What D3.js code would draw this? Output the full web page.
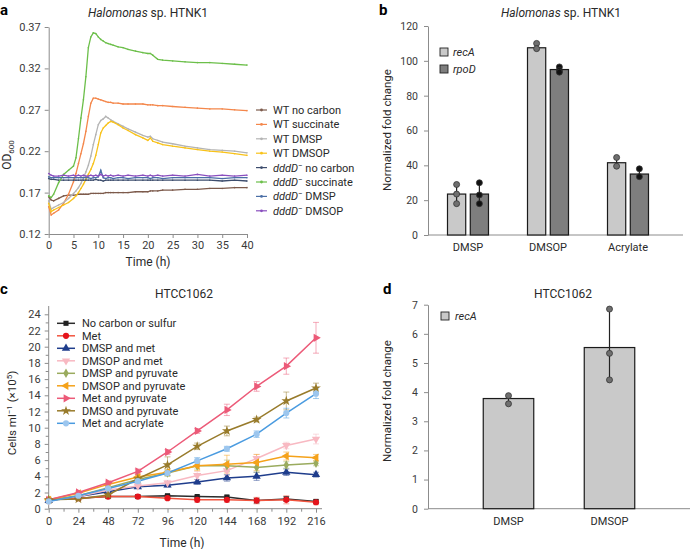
<!DOCTYPE html>
<html><head><meta charset="utf-8">
<script src="https://cdn.jsdelivr.net/npm/d3@7"></script>
<style>body{margin:0;background:#fff} svg text{font-family:Roboto,"Liberation Sans",sans-serif}</style>
</head><body><svg id="chart" width="694" height="549"></svg>
<script>
// ---------- Panel a data ----------
const timesA = [0,0.5,1,2,3,4,5,5.5,6,6.5,7,7.5,8,8.5,9,9.5,10,10.5,11,11.5,12,12.5,13,14,15,16,17.5,19,20,20.5,21,22,23,25,27.5,30,32.5,35,37.5,40];
const wtNoCarbon  = [0.165,0.161,0.160,0.163,0.166,0.167,0.167,0.167,0.168,0.168,0.168,0.168,0.168,0.169,0.169,0.169,0.169,0.169,0.169,0.170,0.170,0.170,0.170,0.170,0.170,0.170,0.171,0.171,0.171,0.172,0.172,0.172,0.173,0.173,0.174,0.174,0.175,0.175,0.176,0.176];
const wtSuccinate = [0.153,0.143,0.145,0.149,0.157,0.168,0.183,0.193,0.205,0.217,0.229,0.244,0.262,0.278,0.284,0.284,0.283,0.282,0.281,0.280,0.279,0.279,0.278,0.278,0.277,0.277,0.277,0.277,0.276,0.276,0.276,0.275,0.275,0.274,0.273,0.272,0.271,0.271,0.270,0.269];
const wtDMSP      = [0.160,0.150,0.152,0.155,0.158,0.163,0.169,0.172,0.176,0.181,0.188,0.195,0.203,0.214,0.228,0.240,0.252,0.257,0.259,0.262,0.260,0.258,0.256,0.253,0.250,0.247,0.243,0.239,0.237,0.238,0.235,0.233,0.231,0.229,0.226,0.224,0.222,0.221,0.220,0.218];
const wtDMSOP     = [0.157,0.147,0.149,0.152,0.155,0.158,0.163,0.166,0.170,0.175,0.180,0.186,0.192,0.198,0.205,0.215,0.228,0.242,0.248,0.251,0.254,0.256,0.255,0.252,0.248,0.245,0.240,0.236,0.233,0.236,0.232,0.230,0.228,0.226,0.224,0.222,0.220,0.219,0.217,0.215];
const dddNoCarbon = [0.187,0.186,0.186,0.185,0.185,0.185,0.185,0.185,0.185,0.185,0.185,0.185,0.185,0.185,0.185,0.186,0.185,0.185,0.184,0.185,0.185,0.185,0.185,0.185,0.185,0.185,0.185,0.185,0.185,0.185,0.185,0.185,0.185,0.185,0.185,0.185,0.185,0.184,0.185,0.184];
const dddSuccinate= [0.166,0.164,0.168,0.182,0.192,0.197,0.202,0.212,0.235,0.260,0.282,0.310,0.345,0.358,0.363,0.362,0.358,0.355,0.353,0.351,0.350,0.349,0.348,0.346,0.345,0.343,0.341,0.339,0.338,0.338,0.336,0.331,0.330,0.329,0.328,0.327,0.327,0.326,0.325,0.324];
const dddDMSP     = [0.189,0.188,0.188,0.188,0.188,0.188,0.188,0.188,0.188,0.188,0.188,0.188,0.188,0.187,0.188,0.188,0.189,0.197,0.188,0.187,0.188,0.188,0.187,0.188,0.188,0.187,0.188,0.188,0.188,0.187,0.188,0.188,0.187,0.188,0.188,0.188,0.188,0.187,0.188,0.188];
const dddDMSOP    = [0.193,0.191,0.190,0.190,0.191,0.190,0.191,0.190,0.191,0.190,0.191,0.190,0.190,0.191,0.190,0.191,0.190,0.192,0.190,0.191,0.190,0.191,0.190,0.191,0.190,0.191,0.190,0.191,0.190,0.191,0.190,0.191,0.190,0.191,0.190,0.192,0.190,0.191,0.190,0.191];
const seriesANames = ["WT no carbon","WT succinate","WT DMSP","WT DMSOP","no carbon","succinate","DMSP","DMSOP"];
const seriesAMutant = [false,false,false,false,true,true,true,true];
const seriesAColors = ["#7d5b4c","#f4874b","#b4b4b4","#f8c21a","#3d4d6d","#6cbf4a","#4b6fa6","#8a4fbf"];
const seriesAValues = [wtNoCarbon,wtSuccinate,wtDMSP,wtDMSOP,dddNoCarbon,dddSuccinate,dddDMSP,dddDMSOP];
const ticksAx = [0,5,10,15,20,25,30,35,40];
const ticksAy = [0.12,0.17,0.22,0.27,0.32,0.37];

// ---------- Panel b data ----------
const catsB = ["DMSP","DMSOP","Acrylate"];
const genesB = ["recA","rpoD"];
const recAMeanB = [23.5,107.5,41.5];
const rpoDMeanB = [23.5,95,35];
const recAPtsB = [[29,23.5,18],[110,107],[44.5,39.5]];
const rpoDPtsB = [[30,23,18],[96.5,94.5,93.5],[38,33.5]];
const ticksBy = [0,20,40,60,80,100,120];

// ---------- Panel c data ----------
const timesC = [0,24,48,72,96,120,144,168,192,216];
const noCarbonSulfur = [1.1,1.3,1.5,1.5,1.6,1.5,1.45,1.0,1.2,0.9];
const met            = [1.1,1.3,1.5,1.5,1.3,1.1,1.1,1.0,1.1,0.8];
const dmspMet        = [1.0,1.5,2.1,2.7,2.9,3.3,3.8,4.0,4.5,4.2];
const dmsopMet       = [1.0,1.5,2.3,2.8,3.2,4.1,4.7,6.2,7.8,8.6];
const dmspPyr        = [1.1,1.6,2.6,3.6,4.4,5.3,5.3,5.1,5.4,5.6];
const dmsopPyr       = [1.1,1.9,3.0,3.9,4.5,5.3,5.5,5.7,6.5,6.3];
const metPyr         = [1.1,2.0,3.2,4.6,7.0,9.6,12.2,15.1,17.6,21.1];
const dmsoPyr        = [1.1,1.2,1.7,3.7,5.4,7.7,9.6,11.0,13.3,14.9];
const metAcr         = [0.9,1.6,2.5,3.4,4.4,5.9,7.4,9.2,11.8,14.2];
const errNoCarbon = [0.15,0.15,0.15,0.15,0.15,0.15,0.15,0.3,0.3,0.2];
const errMet      = [0.15,0.2,0.2,0.15,0.2,0.3,0.3,0.4,0.5,0.3];
const errDmspMet  = [0.1,0.15,0.2,0.2,0.2,0.3,0.4,0.5,0.4,0.3];
const errDmsopMet = [0.1,0.2,0.3,0.3,0.3,0.5,0.6,0.5,0.4,0.6];
const errDmspPyr  = [0.1,0.2,0.2,0.3,0.4,0.4,0.7,0.6,0.4,0.3];
const errDmsopPyr = [0.1,0.2,0.2,0.3,0.4,0.6,1.1,1.0,0.5,0.4];
const errMetPyr   = [0.1,0.2,0.2,0.3,0.3,0.3,0.7,0.6,1.0,1.9];
const errDmsoPyr  = [0.1,0.2,0.2,0.3,1.0,0.4,0.6,0.3,1.1,0.6];
const errMetAcr   = [0.1,0.2,0.2,0.3,0.3,0.4,0.3,0.4,0.6,0.6];
const seriesCNames = ["No carbon or sulfur","Met","DMSP and met","DMSOP and met","DMSP and pyruvate","DMSOP and pyruvate","Met and pyruvate","DMSO and pyruvate","Met and acrylate"];
const seriesCValues = [noCarbonSulfur,met,dmspMet,dmsopMet,dmspPyr,dmsopPyr,metPyr,dmsoPyr,metAcr];
const seriesCErrors = [errNoCarbon,errMet,errDmspMet,errDmsopMet,errDmspPyr,errDmsopPyr,errMetPyr,errDmsoPyr,errMetAcr];
const seriesCLine   = ["#2b2b2b","#f2553f","#1f3d8c","#f8b9c2","#9aab5e","#f5a21a","#ec5a78","#987b2b","#4a9be0"];
const seriesCMarker = ["#222222","#e5141c","#1f3d8c","#f8b9c2","#9aab5e","#f5a21a","#ec5a78","#987b2b","#9cc6ee"];
const seriesCShape  = ["square","circle","up","down","diamond","left","right","star","circle"];
const ticksCx = [0,24,48,72,96,120,144,168,192,216];
const ticksCy = [0,2,4,6,8,10,12,14,16,18,20,22,24];

// ---------- Panel d data ----------
const catsD = ["DMSP","DMSOP"];
const recAMeanD = [3.78,5.53];
const recAPtsD = [[3.88,3.6],[6.85,5.33,4.42]];
const ticksDy = [0,1,2,3,4,5,6,7];

// ---------- drawing ----------
const svg = d3.select("#chart");
const FONT = 'Roboto,"Liberation Sans",sans-serif';
const AX = "#8c8c8c";
const TXT = "#2a2a2a";
function styleAxis(g, fs){
  g.attr("font-family", FONT).attr("font-size", fs || 11);
  g.select("path.domain").attr("stroke", AX);
  g.selectAll(".tick line").attr("stroke", AX);
  g.selectAll(".tick text").attr("fill", "#3a3a3a");
}
function txt(x,y,s,opt){
  opt = opt||{};
  const t = svg.append("text").attr("x",x).attr("y",y).text(s)
    .attr("font-size",opt.fs||11).attr("fill",opt.fill||TXT)
    .attr("text-anchor",opt.anchor||"start");
  if(opt.bold) t.attr("font-weight","bold");
  if(opt.italic) t.attr("font-style","italic");
  return t;
}
function panelLabel(x,y,s){ txt(x,y,s,{fs:15,bold:true,fill:"#000"}); }

// ===== Panel a =====
const xA = d3.scaleLinear().domain([0,40]).range([48.7,247]);
const yA = d3.scaleLinear().domain([0.12,0.37]).range([234,27]);
panelLabel(0,15,"a");
{
  const t = txt(148,17,"",{fs:12,anchor:"middle"});
  t.append("tspan").attr("font-style","italic").text("Halomonas");
  t.append("tspan").text(" sp. HTNK1");
}
const gAy = svg.append("g").attr("transform","translate(48.7,0)")
  .call(d3.axisLeft(yA).tickValues(ticksAy).tickFormat(d3.format(".2f")).tickSize(4).tickSizeOuter(0).tickPadding(4));
styleAxis(gAy);
const gAx = svg.append("g").attr("transform","translate(0,234)")
  .call(d3.axisBottom(xA).tickValues(ticksAx).tickSize(4).tickSizeOuter(0).tickPadding(3));
styleAxis(gAx);
txt(148,266,"Time (h)",{fs:12,anchor:"middle"});
{
  const t = svg.append("text").attr("transform","translate(11,155) rotate(-90)")
    .attr("text-anchor","middle").attr("font-size",12).attr("fill",TXT);
  t.append("tspan").text("OD");
  t.append("tspan").attr("font-size",8).attr("dy",3).text("600");
}
const lineA = d3.line().x((d,i)=>xA(timesA[i])).y(d=>yA(d));
seriesAValues.forEach((vals,k)=>{
  svg.append("path").datum(vals).attr("d",lineA).attr("fill","none")
    .attr("stroke",seriesAColors[k]).attr("stroke-width",1.3);
  svg.append("g").selectAll("circle").data(vals).join("circle")
    .attr("cx",(d,i)=>xA(timesA[i])).attr("cy",d=>yA(d)).attr("r",0.8)
    .attr("fill",seriesAColors[k]);
});
// legend a
seriesANames.forEach((n,k)=>{
  const y = 110 + k*14.4;
  svg.append("line").attr("x1",256).attr("x2",267).attr("y1",y).attr("y2",y)
    .attr("stroke",seriesAColors[k]).attr("stroke-width",1.2);
  svg.append("circle").attr("cx",261.5).attr("cy",y).attr("r",1.4).attr("fill",seriesAColors[k]);
  const t = txt(273,y+4,"",{fs:11});
  if(seriesAMutant[k]){
    t.append("tspan").attr("font-style","italic").text("dddD");
    t.append("tspan").attr("font-size",8).attr("dy",-4).text("\u2212");
    t.append("tspan").attr("dy",4).text(" "+n);
  } else t.text(n);
});

// ===== Panel b =====
const xB = d3.scaleBand().domain(catsB).range([428,668]);
const yB = d3.scaleLinear().domain([0,120]).range([235,26]);
panelLabel(379,15,"b");
{
  const t = txt(561,17,"",{fs:12,anchor:"middle"});
  t.append("tspan").attr("font-style","italic").text("Halomonas");
  t.append("tspan").text(" sp. HTNK1");
}
const gBy = svg.append("g").attr("transform","translate(428,0)")
  .call(d3.axisLeft(yB).tickValues(ticksBy).tickSize(4).tickSizeOuter(0).tickPadding(6));
styleAxis(gBy,10.5);
svg.append("line").attr("x1",428).attr("x2",683).attr("y1",235).attr("y2",235).attr("stroke",AX);
catsB.forEach(c=>txt(xB(c)+xB.bandwidth()/2,251,c,{fs:11,anchor:"middle"}));
svg.append("text").attr("transform","translate(391,130) rotate(-90)").attr("text-anchor","middle")
  .attr("font-size",11.5).attr("fill",TXT).text("Normalized fold change");
const fillB = {recA:"#c9c9c9", rpoD:"#7e7e7e"};
const dotB  = {recA:"#6f6f6f", rpoD:"#111111"};
catsB.forEach((c,i)=>{
  const sub = d3.scaleBand().domain(genesB).range([xB(c)+xB.bandwidth()/2-20.5, xB(c)+xB.bandwidth()/2+20.5]).paddingInner(0.2);
  genesB.forEach(g=>{
    const mean = g==="recA"?recAMeanB[i]:rpoDMeanB[i];
    const pts = g==="recA"?recAPtsB[i]:rpoDPtsB[i];
    svg.append("rect").attr("x",sub(g)).attr("width",sub.bandwidth())
      .attr("y",yB(mean)).attr("height",yB(0)-yB(mean))
      .attr("fill",fillB[g]).attr("stroke","#1a1a1a").attr("stroke-width",1.2);
    const cx = sub(g)+sub.bandwidth()/2;
    svg.append("line").attr("x1",cx).attr("x2",cx).attr("y1",yB(d3.max(pts))).attr("y2",yB(d3.min(pts)))
      .attr("stroke","#222").attr("stroke-width",1.2);
    pts.forEach(p=>svg.append("circle").attr("cx",cx).attr("cy",yB(p)).attr("r",3)
      .attr("fill",dotB[g]).attr("stroke","#333").attr("stroke-width",0.8));
  });
});
genesB.forEach((g,k)=>{
  const y = 52 + k*17;
  svg.append("rect").attr("x",440).attr("y",y-4).attr("width",8).attr("height",8)
    .attr("fill",fillB[g]).attr("stroke","#222").attr("stroke-width",0.9);
  txt(453,y+4,g,{fs:11,italic:true});
});

// ===== Panel c =====
const xC = d3.scaleLinear().domain([0,216]).range([48.7,316]);
const yC = d3.scaleLinear().domain([0,24]).range([508.7,314.3]);
panelLabel(0,294,"c");
txt(184,298,"HTCC1062",{fs:12,anchor:"middle"});
const gCy = svg.append("g").attr("transform","translate(48.7,0)")
  .call(d3.axisLeft(yC).tickValues(ticksCy).tickSize(4).tickSizeOuter(0).tickPadding(4));
styleAxis(gCy);
gCy.select("path.domain").attr("d","M0,"+yC(0)+"V306");
svg.append("g").attr("transform","translate(48.7,0)")
  .call(d3.axisLeft(yC).tickValues(d3.range(1,24,2)).tickSize(3).tickFormat(""))
  .call(g=>{g.select(".domain").remove(); g.selectAll("line").attr("stroke",AX);});
const gCx = svg.append("g").attr("transform","translate(0,508.7)")
  .call(d3.axisBottom(xC).tickValues(ticksCx).tickSize(4).tickSizeOuter(0).tickPadding(5));
styleAxis(gCx);
gCx.select("path.domain").attr("d","M"+xC(0)+",0H322");
svg.append("g").attr("transform","translate(0,508.7)")
  .call(d3.axisBottom(xC).tickValues(d3.range(12,216,24)).tickSize(3).tickFormat(""))
  .call(g=>{g.select(".domain").remove(); g.selectAll("line").attr("stroke",AX);});
txt(182,547,"Time (h)",{fs:12,anchor:"middle"});
{
  const t = svg.append("text").attr("transform","translate(16,413) rotate(-90)")
    .attr("text-anchor","middle").attr("font-size",11.5).attr("fill",TXT);
  t.append("tspan").text("Cells ml");
  t.append("tspan").attr("font-size",8).attr("dy",-4).text("\u22121");
  t.append("tspan").attr("dy",4).text(" (\u00d710");
  t.append("tspan").attr("font-size",8).attr("dy",-4).text("5");
  t.append("tspan").attr("dy",4).text(")");
}
function symPath(shape){
  const map = {square:[d3.symbolSquare,26,0],circle:[d3.symbolCircle,30,0],up:[d3.symbolTriangle,30,0],
    down:[d3.symbolTriangle,30,180],diamond:[d3.symbolDiamond,26,0],left:[d3.symbolTriangle,30,-90],
    right:[d3.symbolTriangle,30,90],star:[d3.symbolStar,30,0]};
  return map[shape];
}
const lineC = d3.line().x((d,i)=>xC(timesC[i])).y(d=>yC(d));
seriesCValues.forEach((vals,k)=>{
  const err = seriesCErrors[k];
  const eg = svg.append("g").attr("stroke",seriesCLine[k]).attr("stroke-opacity",0.5).attr("stroke-width",1);
  vals.forEach((v,i)=>{
    const x = xC(timesC[i]), y1 = yC(v+err[i]), y2 = yC(v-err[i]);
    eg.append("line").attr("x1",x).attr("x2",x).attr("y1",y1).attr("y2",y2);
    eg.append("line").attr("x1",x-3).attr("x2",x+3).attr("y1",y1).attr("y2",y1);
    eg.append("line").attr("x1",x-3).attr("x2",x+3).attr("y1",y2).attr("y2",y2);
  });
});
seriesCValues.forEach((vals,k)=>{
  svg.append("path").datum(vals).attr("d",lineC).attr("fill","none")
    .attr("stroke",seriesCLine[k]).attr("stroke-width",1.5);
  const [s,size,rot] = symPath(seriesCShape[k]);
  const p = d3.symbol().type(s).size(size)();
  svg.append("g").selectAll("path").data(vals).join("path").attr("d",p)
    .attr("transform",(d,i)=>"translate("+xC(timesC[i])+","+yC(d)+") rotate("+rot+")")
    .attr("fill",seriesCMarker[k]);
});
seriesCNames.forEach((n,k)=>{
  const y = 323.3 + k*12.5;
  svg.append("line").attr("x1",57).attr("x2",75).attr("y1",y).attr("y2",y)
    .attr("stroke",seriesCLine[k]).attr("stroke-width",1.5);
  const [s,size,rot] = symPath(seriesCShape[k]);
  svg.append("path").attr("d",d3.symbol().type(s).size(size)())
    .attr("transform","translate(66,"+y+") rotate("+rot+")").attr("fill",seriesCMarker[k]);
  txt(82,y+4,n,{fs:11});
});

// ===== Panel d =====
const xD = d3.scaleBand().domain(catsD).range([458,660]).paddingInner(0.5).paddingOuter(0.25);
const yD = d3.scaleLinear().domain([0,7]).range([508.7,304.7]);
panelLabel(383,294,"d");
txt(563,298,"HTCC1062",{fs:12,anchor:"middle"});
const gDy = svg.append("g").attr("transform","translate(428,0)")
  .call(d3.axisLeft(yD).tickValues(ticksDy).tickFormat(d3.format("d")).tickSize(4).tickSizeOuter(0).tickPadding(6));
styleAxis(gDy,10.5);
svg.append("line").attr("x1",428).attr("x2",690).attr("y1",508.7).attr("y2",508.7).attr("stroke",AX);
catsD.forEach(c=>txt(xD(c)+xD.bandwidth()/2,525,c,{fs:11,anchor:"middle"}));
svg.append("text").attr("transform","translate(391,401) rotate(-90)").attr("text-anchor","middle")
  .attr("font-size",11.5).attr("fill",TXT).text("Normalized fold change");
catsD.forEach((c,i)=>{
  const mean = recAMeanD[i], pts = recAPtsD[i];
  svg.append("rect").attr("x",xD(c)).attr("width",xD.bandwidth())
    .attr("y",yD(mean)).attr("height",yD(0)-yD(mean))
    .attr("fill","#c9c9c9").attr("stroke","#1a1a1a").attr("stroke-width",1.2);
  const cx = xD(c)+xD.bandwidth()/2;
  svg.append("line").attr("x1",cx).attr("x2",cx).attr("y1",yD(d3.max(pts))).attr("y2",yD(d3.min(pts)))
    .attr("stroke","#222").attr("stroke-width",1.2);
  pts.forEach(p=>svg.append("circle").attr("cx",cx).attr("cy",yD(p)).attr("r",3)
    .attr("fill","#6f6f6f").attr("stroke","#333").attr("stroke-width",0.8));
});
svg.append("rect").attr("x",441).attr("y",312).attr("width",8).attr("height",8)
  .attr("fill","#c9c9c9").attr("stroke","#222").attr("stroke-width",0.9);
txt(455,320,"recA",{fs:11,italic:true});
</script></body></html>
